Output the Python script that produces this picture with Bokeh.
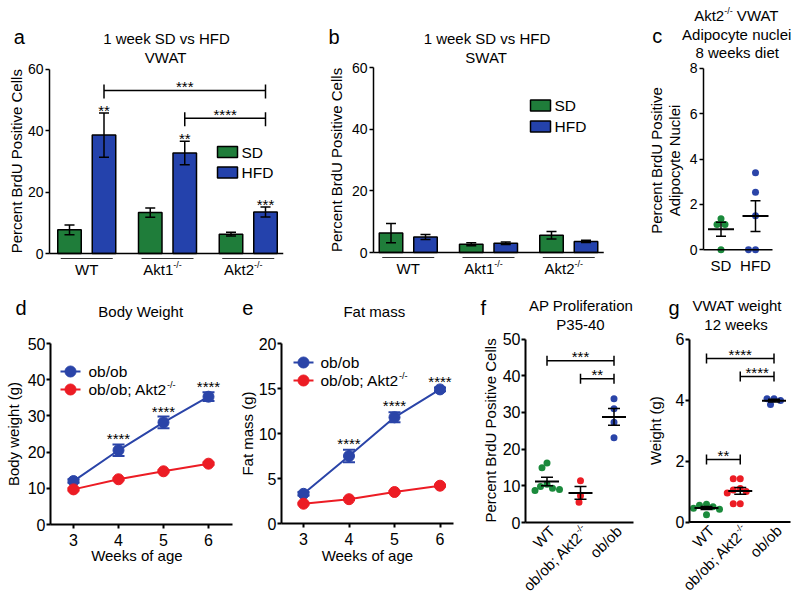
import math
import numpy as np
from bokeh.plotting import figure
from bokeh.models import FixedTicker, Range1d
from bokeh.layouts import row, column
from bokeh.core.properties import value
from bokeh.embed import file_html
from bokeh.resources import INLINE

FONT = "Liberation Sans"
BAR_GREEN = "#1f7d3a"
BAR_BLUE = "#2442ac"
PT_GREEN = "#1b8a3c"
PT_BLUE = "#2a44a8"
PT_RED = "#ec1c24"

# ---------------- data ----------------
a_groups = ["WT", "Akt1", "Akt2"]
a_sup = [False, True, True]
a_sd_mean = [7.7, 13.3, 6.3]
a_sd_sem = [1.6, 1.5, 0.6]
a_hfd_mean = [38.5, 32.7, 13.5]
a_hfd_sem = [7.2, 3.8, 1.6]
a_hfd_stars = ["**", "**", "***"]
a_brackets = [(0, 2, 53.0, "***"), (1, 2, 44.0, "****")]

b_groups = ["WT", "Akt1", "Akt2"]
b_sd_mean = [6.3, 2.7, 5.6]
b_sd_sem = [3.1, 0.5, 1.2]
b_hfd_mean = [5.0, 3.0, 3.6]
b_hfd_sem = [0.8, 0.4, 0.35]

c_groups = ["SD", "HFD"]
c_sd = [1.12, 1.12, 1.37, 0.0]
c_hfd = [3.39, 2.54, 1.50, 0.0, 0.0]

weeks = [3, 4, 5, 6]
d_ob = [12.0, 20.5, 28.2, 35.3]
d_ob_sem = [0.5, 1.6, 1.6, 1.2]
d_akt2 = [9.7, 12.5, 14.7, 16.8]
d_akt2_sem = [0.3, 0.3, 0.3, 0.3]
d_stars = ["", "****", "****", "****"]

e_ob = [3.3, 7.5, 11.8, 14.9]
e_ob_sem = [0.2, 0.7, 0.55, 0.2]
e_akt2 = [2.2, 2.7, 3.5, 4.2]
e_akt2_sem = [0.1, 0.1, 0.1, 0.1]
e_stars = ["", "****", "****", "****"]

fg_groups = ["WT", "ob/ob; Akt2", "ob/ob"]
fg_sup = [False, True, False]
f_wt = [16.2, 14.9, 10.4, 9.8, 9.3, 9.0, 8.7]
f_akt2 = [11.4, 7.3, 5.5]
f_ob = [33.7, 31.0, 27.3, 23.1]
f_brackets = [(0, 2, 44.1, "***"), (1, 2, 39.2, "**")]

g_wt = [0.58, 0.55, 0.50, 0.45, 0.42, 0.24]
g_akt2 = [1.42, 1.42, 1.10, 1.05, 1.00, 0.95, 0.60, 0.60]
g_ob = [4.04, 4.04, 3.98, 3.85]
g_brackets = [(0, 2, 5.36, "****"), (1, 2, 4.77, "****"), (0, 1, 2.05, "**")]

# ---------------- helpers ----------------
AW = {' ': 278, '(': 333, ')': 333, '*': 389, ',': 278, '-': 333, '.': 278, '/': 278, ';': 278,
      'A': 667, 'B': 667, 'C': 722, 'D': 722, 'E': 667, 'F': 611, 'H': 722, 'N': 722, 'P': 667,
      'S': 667, 'T': 611, 'U': 722, 'V': 667, 'W': 944, 'a': 556, 'b': 556, 'c': 500, 'd': 556,
      'e': 556, 'f': 278, 'g': 556, 'h': 556, 'i': 222, 'k': 500, 'l': 222, 'm': 833, 'n': 556,
      'o': 556, 'p': 556, 'r': 333, 's': 500, 't': 278, 'u': 556, 'v': 500, 'w': 722, 'y': 500}


def tw(s, size):
    return sum(AW.get(ch, 556) for ch in s) * size / 1000.0


class Panel:
    """One figure whose frame covers its whole page rectangle; page px <-> data maps."""

    def __init__(self, left, top, width, height, xmap, ymap, xaxis=False):
        self.xpa, self.xva, self.kx = xmap
        self.ypa, self.yva, self.ky = ymap
        self.fig = figure(width=width, height=height,
                          x_range=Range1d(self.X(left), self.X(left + width)),
                          y_range=Range1d(self.Y(top + height), self.Y(top)),
                          output_backend="svg", toolbar_location=None, title=None,
                          x_axis_location=("below" if xaxis else None),
                          y_axis_location="left",
                          min_border=0, min_border_left=0, min_border_right=0,
                          min_border_top=0, min_border_bottom=0)
        p = self.fig
        p.outline_line_color = None
        p.grid.visible = False
        p.background_fill_color = "white"
        p.border_fill_color = "white"

    def X(self, px):
        return self.xva + (px - self.xpa) / self.kx

    def Y(self, py):
        return self.yva - (py - self.ypa) / self.ky


def rich(p, x, y, pieces, size=15.0, align="center", angle=0.0, dx=0.0, dy=0.0, base=0.0,
         color="black"):
    """Text with optional superscript pieces; (x, y)+(dx, dy) is the visual middle of the anchor."""
    sup = size * 0.6
    ws = [tw(t, sup if u else size) for t, u in pieces]
    W = sum(ws)
    pos = {"left": 0.0, "center": -W / 2.0, "right": -W}[align]
    c, s = math.cos(angle), math.sin(angle)
    for (t, u) in pieces:
        fs = sup if u else size
        stripped = t.lstrip(" ")
        pos += tw(t[:len(t) - len(stripped)], fs)
        v = base * size - (0.28 * size if u else 0.0)
        ox = dx + pos * c + v * s
        oy = dy - pos * s + v * c
        p.text(x=[x], y=[y], text=[stripped], angle=angle, x_offset=ox, y_offset=oy,
               text_align="left", text_baseline="middle",
               text_font=value(FONT), text_font_size=value(f"{fs:.1f}px"), text_color=color)
        pos += tw(stripped, fs)


def label_pieces(name, has_sup):
    return [(name, False), ("-/-", True)] if has_sup else [(name, False)]


def style_axis(ax, ticks, bounds, tick_size, lw, standoff):
    ax.ticker = FixedTicker(ticks=ticks)
    ax.bounds = bounds
    ax.major_label_text_font = FONT
    ax.major_label_text_font_size = f"{tick_size}px"
    ax.major_label_text_color = "black"
    ax.major_label_standoff = standoff
    ax.axis_line_color = "black"
    ax.axis_line_width = lw
    ax.major_tick_line_color = "black"
    ax.major_tick_line_width = lw
    ax.major_tick_in = 0
    ax.major_tick_out = 4
    ax.minor_tick_line_color = None


def style_y(P, axis_px, ticks, bounds, tick_size, lw=1.5, standoff=2):
    ax = P.fig.yaxis[0]
    ax.fixed_location = P.X(axis_px)
    style_axis(ax, ticks, bounds, tick_size, lw, standoff)


def style_x(P, ticks, bounds, tick_size, lw=2):
    ax = P.fig.xaxis[0]
    ax.fixed_location = 0
    style_axis(ax, ticks, bounds, tick_size, lw, 5)


def ylabel(P, lines, cx_list, cy, size=15):
    for t, cx in zip(lines, cx_list):
        rich(P.fig, P.X(cx), P.Y(cy), [(t, False)], size, "center", angle=math.pi / 2)


def letter(P, px, py, t, size=20):
    # (px, py): left edge and baseline of the panel letter
    P.fig.text(x=[P.X(px)], y=[P.Y(py - 0.35 * size)], text=[t], text_align="left",
               text_baseline="middle", text_font=value(FONT),
               text_font_size=value(f"{size}px"), text_color="black")


def errbar(p, x, lo, hi, cap_px, kx, color="black", width=1.5):
    x = np.asarray(x, float)
    lo = np.asarray(lo, float)
    hi = np.asarray(hi, float)
    cw = cap_px / kx
    p.segment(x0=x, y0=lo, x1=x, y1=hi, line_color=color, line_width=width)
    p.segment(x0=x - cw, y0=hi, x1=x + cw, y1=hi, line_color=color, line_width=width)
    p.segment(x0=x - cw, y0=lo, x1=x + cw, y1=lo, line_color=color, line_width=width)


def stars_at(p, x, y, st, gap, size=15):
    rich(p, x, y, [(st, False)], size, "center", base=0.23, dy=-gap)


def bracket(p, P, xa, xb, y, st, up_px=5, down_px=5, gap=7.5, lw=1.5):
    p.segment(x0=[xa], y0=[y], x1=[xb], y1=[y], line_color="black", line_width=lw)
    p.segment(x0=[xa, xb], y0=[y - down_px / P.ky] * 2, x1=[xa, xb], y1=[y + up_px / P.ky] * 2,
              line_color="black", line_width=lw)
    stars_at(p, (xa + xb) / 2.0, y, st, gap)


def mean_sem(v):
    v = np.asarray(v, float)
    return v.mean(), v.std(ddof=1) / math.sqrt(len(v))


def swarm(vals, ky, kx, diam):
    vals = np.asarray(vals, float)
    order = np.argsort(-vals, kind="stable")
    placed = []
    offs = np.zeros(len(vals))
    cands = sorted(np.arange(-40, 40.25, 0.5), key=lambda t: (abs(t), t))
    for i in order:
        yp = vals[i] * ky
        for xo in cands:
            if all((xo - a) ** 2 + (yp - b) ** 2 >= diam ** 2 for a, b in placed):
                break
        placed.append((xo, yp))
        offs[i] = xo / kx
    return offs


def dot_group(p, P, xc, vals, color, half_mean_px, cap_px, size=7):
    offs = swarm(vals, P.ky, P.kx, size - 0.3)
    p.scatter(x=xc + offs, y=vals, size=size, fill_color=color, line_color=None)
    m, s = mean_sem(vals)
    p.segment(x0=[xc - half_mean_px / P.kx], y0=[m], x1=[xc + half_mean_px / P.kx], y1=[m],
              line_color="black", line_width=2)
    errbar(p, [xc], [m - s], [m + s], cap_px, P.kx, width=1.5)


def axis_line(p, x0, x1, lw=1.5):
    p.segment(x0=[x0], y0=[0], x1=[x1], y1=[0], line_color="black", line_width=lw)


# ---------------- panels a / b (bar charts) ----------------
def bar_panel(P, axis_px, groups, sups, sd_m, sd_s, hfd_m, hfd_s, legend_px, text_px):
    p = P.fig
    style_y(P, axis_px, [0, 20, 40, 60], (0, 60), 14)
    xs = np.arange(len(groups), dtype=float)
    off = 17.25 / P.kx
    bw = 23.5 / P.kx
    sd_x, hfd_x = xs - off, xs + off
    p.vbar(x=sd_x, top=sd_m, bottom=0, width=bw, fill_color=BAR_GREEN, line_color="black",
           line_width=1.5)
    p.vbar(x=hfd_x, top=hfd_m, bottom=0, width=bw, fill_color=BAR_BLUE, line_color="black",
           line_width=1.5)
    errbar(p, sd_x, np.subtract(sd_m, sd_s), np.add(sd_m, sd_s), 5, P.kx)
    errbar(p, hfd_x, np.subtract(hfd_m, hfd_s), np.add(hfd_m, hfd_s), 5, P.kx)
    axis_line(p, P.X(axis_px), xs[-1] + off + bw / 2 + 6 / P.kx)
    yu = -5.0 / P.ky
    p.segment(x0=xs - 26 / P.kx, y0=[yu] * len(xs), x1=xs + 26 / P.kx, y1=[yu] * len(xs),
              line_color="#333333", line_width=1)
    for i, (g, su) in enumerate(zip(groups, sups)):
        rich(p, xs[i], 0, label_pieces(g, su), 15, "center", dx=(-5 if su else 0), dy=16)
    lx, ly1, ly2 = legend_px
    for ypx, col, name in [(ly1, BAR_GREEN, "SD"), (ly2, BAR_BLUE, "HFD")]:
        p.rect(x=[P.X(lx)], y=[P.Y(ypx)], width=20 / P.kx, height=11 / P.ky, fill_color=col,
               line_color="black", line_width=1.5)
        rich(p, P.X(text_px), P.Y(ypx), [(name, False)], 15.5, "left")
    return xs, sd_x, hfd_x


# panel a
A = Panel(0, 0, 318, 290, (86.25, 0.0, 80.75), (253.0, 0.0, 3.075))
pa = A.fig
xs_a, sdx_a, hfdx_a = bar_panel(A, 49, a_groups, a_sup, a_sd_mean, a_sd_sem, a_hfd_mean,
                                a_hfd_sem, (227, 151.5, 172), 241)
for i, st in enumerate(a_hfd_stars):
    stars_at(pa, hfdx_a[i], a_hfd_mean[i] + a_hfd_sem[i], st, 6)
for g1, g2, lvl, st in a_brackets:
    bracket(pa, A, hfdx_a[g1], hfdx_a[g2], lvl, st, up_px=6, down_px=8, gap=7)
rich(pa, A.X(166), A.Y(37.5), [("1 week SD vs HFD", False)], 15)
rich(pa, A.X(166), A.Y(57), [("VWAT", False)], 15)
ylabel(A, ["Percent BrdU Positive Cells"], [15.5], 160.75)
letter(A, 13.3, 43, "a")

# panel b
B = Panel(318, 0, 322, 290, (407.75, 0.0, 80.25), (252.0, 0.0, 3.083))
pb = B.fig
bar_panel(B, 373, b_groups, a_sup, b_sd_mean, b_sd_sem, b_hfd_mean, b_hfd_sem,
          (540, 105, 126), 554)
rich(pb, B.X(486.5), B.Y(37.5), [("1 week SD vs HFD", False)], 15)
rich(pb, B.X(486.5), B.Y(57), [("SWAT", False)], 15)
ylabel(B, ["Percent BrdU Positive Cells"], [336], 159.5)
letter(B, 328, 43, "b")

# panel c
C = Panel(640, 0, 156, 290, (720.5, 0.0, 34.5), (249.3, 0.0, 22.7))
pc = C.fig
style_y(C, 703, [0, 2, 4, 6, 8], (0, 8), 14)
dot_group(pc, C, 0.0, c_sd, PT_GREEN, 13, 5)
dot_group(pc, C, 1.0, c_hfd, PT_BLUE, 13, 5)
axis_line(pc, C.X(703), 1.0 + 17 / C.kx)
for i, g in enumerate(c_groups):
    rich(pc, float(i), 0, [(g, False)], 15, "center", dy=16)
rich(pc, C.X(736.7), C.Y(15), [("Akt2", False), ("-/-", True), (" VWAT", False)], 15)
rich(pc, C.X(736.2), C.Y(33.5), [("Adipocyte nuclei", False)], 15)
rich(pc, C.X(736.7), C.Y(51.5), [("8 weeks diet", False)], 15)
ylabel(C, ["Percent BrdU Positive", "Adipocyte Nuclei"], [656, 674], 160)
letter(C, 651.7, 42.7, "c")


# ---------------- panels d / e (growth curves) ----------------
def growth_panel(P, axis_px, axis_end_px, ob, ob_s, akt, akt_s, stars, yticks, ybound,
                 star_gap, legend):
    p = P.fig
    style_y(P, axis_px, yticks, ybound, 16, lw=2, standoff=1)
    style_x(P, weeks, (P.X(axis_px), P.X(axis_end_px)), 16)
    for vals, sems, col in [(ob, ob_s, PT_BLUE), (akt, akt_s, PT_RED)]:
        p.line(weeks, vals, line_color=col, line_width=2)
        errbar(p, weeks, np.subtract(vals, sems), np.add(vals, sems), 6, P.kx, color=col, width=2)
        p.scatter(weeks, vals, size=11, fill_color=col, line_color=col)
    for w, v, s, st in zip(weeks, ob, ob_s, stars):
        if st:
            stars_at(p, w, v + s, st, star_gap)
    x0, x1, tx, y1, y2 = legend
    for ypx, col, pieces in [(y1, PT_BLUE, [("ob/ob", False)]),
                             (y2, PT_RED, [("ob/ob; Akt2", False), ("-/-", True)])]:
        yy = P.Y(ypx)
        p.segment(x0=[P.X(x0)], y0=[yy], x1=[P.X(x1)], y1=[yy], line_color=col, line_width=2)
        p.scatter(x=[P.X((x0 + x1) / 2)], y=[yy], size=11, fill_color=col, line_color=col)
        rich(p, P.X(tx), yy, pieces, 15.5, "left")


D = Panel(0, 290, 238, 308, (73, 3.0, 45.0), (524, 0.0, 3.62), xaxis=True)
growth_panel(D, 50, 232, d_ob, d_ob_sem, d_akt2, d_akt2_sem, d_stars, [0, 10, 20, 30, 40, 50],
             (0, 50), 9, (60, 80, 88, 371, 389))
rich(D.fig, D.X(140.3), D.Y(311.3), [("Body Weight", False)], 15)
rich(D.fig, D.X(136.5), D.Y(555.3), [("Weeks of age", False)], 15)
ylabel(D, ["Body weight (g)"], [12.5], 433.5)
letter(D, 15, 314, "d")

E = Panel(238, 290, 232, 308, (303, 3.0, 45.5), (523, 0.0, 9.0), xaxis=True)
growth_panel(E, 281, 453, e_ob, e_ob_sem, e_akt2, e_akt2_sem, e_stars, [0, 5, 10, 15, 20],
             (0, 20), 10, (293, 313, 320, 362, 380))
rich(E.fig, E.X(373.8), E.Y(311), [("Fat mass", False)], 15)
rich(E.fig, E.X(367), E.Y(555.3), [("Weeks of age", False)], 15)
ylabel(E, ["Fat mass (g)"], [247], 433)
letter(E, 241.7, 314, "e")


# ---------------- panels f / g (dot plots) ----------------
def dot_panel(P, axis_px, groups_vals, yticks, ybound, brackets, axis_end_px):
    p = P.fig
    style_y(P, axis_px, yticks, ybound, 16, lw=2, standoff=1)
    cols = [PT_GREEN, PT_RED, PT_BLUE]
    for i, (vals, col) in enumerate(zip(groups_vals, cols)):
        dot_group(p, P, float(i), vals, col, 12, 6)
    axis_line(p, P.X(axis_px), P.X(axis_end_px), lw=2)
    for g1, g2, lvl, st in brackets:
        bracket(p, P, float(g1), float(g2), lvl, st)
    for i, (g, su) in enumerate(zip(fg_groups, fg_sup)):
        rich(p, float(i), 0, label_pieces(g, su), 15, "right", angle=math.pi / 4, dx=5, dy=6)


F = Panel(470, 290, 175, 308, (546.5, 0.0, 33.5), (522, 0.0, 3.67))
dot_panel(F, 525, [f_wt, f_akt2, f_ob], [0, 10, 20, 30, 40, 50], (0, 50), f_brackets, 633)
rich(F.fig, F.X(580.5), F.Y(305.3), [("AP Proliferation", False)], 15)
rich(F.fig, F.X(580), F.Y(323.8), [("P35-40", False)], 15)
ylabel(F, ["Percent BrdU Positive Cells"], [490], 430)
letter(F, 480, 314, "f")

G = Panel(645, 290, 151, 308, (706, 0.0, 33.75), (521.5, 0.0, 30.5))
dot_panel(G, 689, [g_wt, g_akt2, g_ob], [0, 2, 4, 6], (0, 6), g_brackets, 790)
rich(G.fig, G.X(737.5), G.Y(305.3), [("VWAT weight", False)], 15)
rich(G.fig, G.X(735.5), G.Y(323.8), [("12 weeks", False)], 15)
ylabel(G, ["Weight (g)"], [655], 430)
letter(G, 668, 314, "g")

layout = column(row(A.fig, B.fig, C.fig), row(D.fig, E.fig, F.fig, G.fig))
open("out.html", "w").write(file_html(layout, INLINE))
